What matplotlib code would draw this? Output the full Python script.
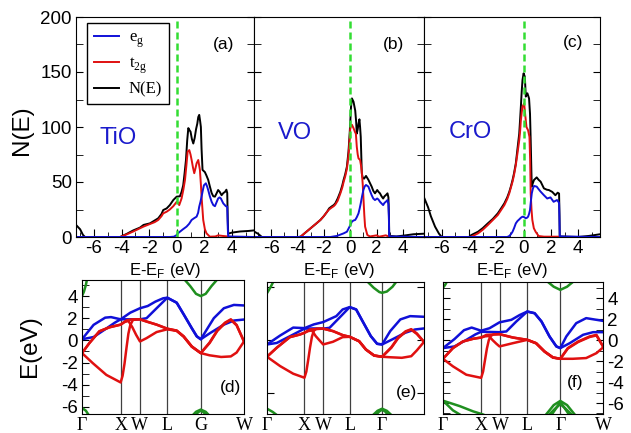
import matplotlib.pyplot as plt
from matplotlib.lines import Line2D
from matplotlib.ticker import MultipleLocator

plt.rcParams['font.family'] = 'Liberation Sans'
plt.rcParams['mathtext.fontset'] = 'custom'
plt.rcParams['mathtext.rm'] = 'Liberation Serif'
plt.rcParams['mathtext.sf'] = 'Liberation Sans'
plt.rcParams['axes.unicode_minus'] = False

# ---------------- DOS data (E - E_F in eV, N(E)) ----------------
tio_total = [(-7.3, 11), (-7.0, 7), (-6.8, 2), (-6.65, 0), (-4.1, 0), (-3.6, 3), (-3.15, 6), (-2.67, 8.5),
             (-2.4, 11), (-1.94, 12.4), (-1.6, 15), (-1.34, 17), (-1.1, 21), (-0.98, 24.5), (-0.73, 26),
             (-0.5, 29), (-0.25, 33.6), (0.0, 36.7), (0.23, 37), (0.35, 41), (0.47, 47), (0.57, 58),
             (0.67, 70), (0.76, 88), (0.84, 99), (0.93, 97), (1.0, 95.8), (1.1, 89), (1.2, 85), (1.3, 90),
             (1.4, 98), (1.49, 103), (1.56, 109), (1.63, 111), (1.7, 105), (1.75, 100), (1.8, 80),
             (1.87, 61), (2.04, 59), (2.15, 56), (2.28, 52), (2.4, 46), (2.53, 40), (2.65, 37),
             (2.77, 36.7), (2.9, 40), (3.0, 42.7), (3.12, 41), (3.25, 38), (3.38, 40), (3.5, 41),
             (3.6, 43), (3.66, 40), (3.7, 15), (3.73, 3), (4.0, 4), (4.58, 5), (5.2, 5.5), (5.6, 6)]
tio_t2g = [(-7.3, 0), (-4.1, 0), (-3.6, 2.5), (-3.15, 5), (-2.67, 7.9), (-2.4, 9.5), (-1.94, 11.8),
           (-1.6, 13.5), (-1.34, 15.5), (-1.1, 19), (-0.98, 21.5), (-0.73, 23), (-0.5, 25), (-0.25, 28),
           (0.0, 32), (0.1, 31), (0.18, 29), (0.35, 35), (0.48, 43), (0.6, 52), (0.7, 65), (0.79, 77.6),
           (0.91, 79), (1.0, 75), (1.08, 70), (1.18, 63), (1.27, 58), (1.35, 62), (1.44, 67), (1.56, 70),
           (1.68, 61), (1.75, 48), (1.8, 36.7), (1.92, 15.5), (2.04, 7), (2.16, 3.3), (2.4, 0.3),
           (2.8, 0.5), (3.0, 1.5), (3.3, 1), (3.7, 0.5), (4.0, 0), (5.6, 0)]
tio_eg = [(-7.3, 0), (-0.5, 0), (-0.2, 0.3), (0.0, 1.8), (0.1, 3.5), (0.23, 4.8), (0.45, 7), (0.71, 9.4),
          (0.9, 12), (1.08, 15.5), (1.25, 17), (1.44, 18.5), (1.55, 22), (1.63, 27.6), (1.72, 32),
          (1.8, 36.7), (1.9, 43), (1.97, 47), (2.11, 48.8), (2.2, 46), (2.28, 42.7), (2.4, 37),
          (2.53, 32), (2.65, 29), (2.77, 28), (2.9, 32), (3.0, 35), (3.1, 36), (3.2, 35), (3.37, 30.6),
          (3.56, 28), (3.66, 27.6), (3.7, 8), (3.73, 0.5), (5.6, 0)]

vo_total = [(-7.3, 5), (-7.0, 3), (-6.7, 0), (-3.9, 0), (-3.76, 0.3), (-3.4, 4), (-3.0, 8), (-2.6, 12),
            (-2.26, 15.5), (-2.0, 19), (-1.75, 23), (-1.6, 26), (-1.38, 28), (-1.25, 29), (-1.13, 30.6),
            (-0.95, 35), (-0.75, 41), (-0.6, 47), (-0.5, 52), (-0.38, 57), (-0.25, 64), (-0.13, 77.6),
            (-0.05, 92), (0.0, 103), (0.06, 118), (0.13, 126), (0.25, 123), (0.38, 115), (0.45, 105),
            (0.5, 94), (0.57, 98), (0.63, 103), (0.7, 107), (0.75, 100), (0.8, 91), (0.88, 58),
            (0.95, 54), (1.05, 53), (1.2, 55.5), (1.38, 52), (1.5, 49), (1.63, 45.8), (1.75, 42),
            (1.88, 39.7), (2.05, 42.7), (2.15, 41), (2.26, 39.7), (2.38, 37), (2.5, 35), (2.6, 37),
            (2.7, 38), (2.83, 39.7), (2.9, 36), (2.94, 20), (2.96, 1), (3.5, 0.5), (4.2, 1.5),
            (4.8, 2.5), (5.6, 3)]
vo_t2g = [(-7.3, 0), (-3.9, 0), (-3.76, 0.3), (-3.4, 4), (-3.0, 8), (-2.6, 12), (-2.26, 15.5), (-2.0, 19),
          (-1.75, 23), (-1.6, 25), (-1.38, 27), (-1.25, 28), (-1.13, 29.5), (-0.95, 33), (-0.75, 39.5),
          (-0.6, 45), (-0.5, 50), (-0.38, 55), (-0.25, 62), (-0.13, 74), (-0.05, 88), (0.0, 98),
          (0.06, 101), (0.13, 102), (0.25, 99), (0.38, 95), (0.43, 94), (0.5, 82), (0.57, 75),
          (0.63, 71.5), (0.75, 70), (0.82, 65), (0.88, 59), (0.95, 48), (1.0, 36.7), (1.07, 20),
          (1.13, 9.4), (1.3, 1.8), (1.5, 0.5), (2.0, 1.5), (2.2, 0.3), (2.7, 1.5), (2.9, 0.5),
          (3.2, 0), (5.6, 0)]
vo_eg = [(-7.3, 0), (-1.5, 0), (-1.0, 1), (-0.5, 3.3), (-0.25, 4.8), (-0.05, 9.4), (0.13, 14), (0.25, 15),
         (0.38, 15.5), (0.5, 18), (0.63, 21.5), (0.72, 26), (0.8, 30.6), (0.9, 37), (1.0, 42.7),
         (1.1, 46), (1.2, 47.3), (1.38, 45.8), (1.5, 42), (1.63, 38), (1.75, 35), (1.88, 33.6),
         (2.05, 35), (2.15, 34), (2.26, 32), (2.38, 30.5), (2.5, 29), (2.6, 31), (2.7, 32),
         (2.83, 33.6), (2.9, 30), (2.94, 15), (2.96, 0.5), (5.6, 0)]

cro_total = [(-7.3, 36), (-7.0, 27), (-6.8, 19), (-6.49, 9.4), (-6.2, 3), (-6.0, 0), (-4.0, 0),
             (-3.83, 1.8), (-3.34, 4.8), (-3.0, 8), (-2.62, 12.4), (-2.25, 16.5), (-1.89, 21.5),
             (-1.65, 26), (-1.41, 30.6), (-1.2, 36), (-1.05, 41), (-0.93, 46), (-0.81, 51.8), (-0.7, 58),
             (-0.57, 67), (-0.45, 80), (-0.32, 94), (-0.25, 108), (-0.2, 118.5), (-0.14, 132),
             (-0.08, 142.7), (0.0, 148.8), (0.09, 145.8), (0.16, 127.6), (0.22, 130), (0.28, 130.6),
             (0.4, 126), (0.47, 112), (0.52, 88), (0.57, 60), (0.6, 45.8), (0.68, 49), (0.76, 51.8),
             (0.96, 54.2), (1.1, 52), (1.25, 50.3), (1.49, 44.2), (1.7, 43), (1.85, 42.7), (2.1, 41),
             (2.33, 38), (2.5, 40.3), (2.6, 39.5), (2.63, 20), (2.65, 0.5), (4.0, 0), (4.8, 1), (5.6, 2.5)]
cro_t2g = [(-7.3, 0), (-4.0, 0), (-3.83, 0.3), (-3.34, 3.3), (-3.0, 6.5), (-2.62, 10.9), (-2.25, 15.5),
           (-1.89, 20), (-1.65, 24.5), (-1.41, 29), (-1.2, 34.5), (-1.05, 39.7), (-0.93, 45),
           (-0.81, 50.3), (-0.7, 56.5), (-0.57, 65.5), (-0.45, 76), (-0.32, 88), (-0.25, 97),
           (-0.2, 106), (-0.14, 113), (-0.08, 118.5), (0.04, 121.5), (0.11, 112), (0.21, 100),
           (0.33, 97), (0.43, 91), (0.48, 70), (0.52, 39.7), (0.58, 25), (0.64, 15.5), (0.75, 8),
           (0.88, 4.8), (1.1, 0.9), (1.5, 0.3), (2.6, 0.3), (2.7, 0), (5.6, 0)]
cro_eg = [(-7.3, 0), (-1.2, 0), (-1.05, 0.9), (-0.93, 2.5), (-0.81, 4.8), (-0.7, 8), (-0.57, 12.4),
          (-0.45, 14.5), (-0.32, 16), (-0.2, 17.5), (-0.08, 18.5), (0.05, 18), (0.16, 17), (0.25, 17.5),
          (0.33, 18.5), (0.4, 21), (0.47, 24.5), (0.53, 32), (0.6, 39.7), (0.68, 44), (0.76, 46.4),
          (0.96, 45.8), (1.1, 43.5), (1.25, 41.2), (1.49, 38), (1.73, 35), (1.97, 36), (2.2, 32),
          (2.45, 33.6), (2.55, 32), (2.6, 31), (2.63, 15), (2.65, 0.5), (5.6, 0)]

# ---------------- band data (k along G-X-W-L-G-W, E in eV) ----------------
kpath = [0.0, 1.0, 1.5, 2.2071, 3.0731, 4.1912]

tio_eg_bands = [
    [(0, 0.1), (0.3, 1.4), (0.6, 2.05), (0.75, 2.1), (1.0, 1.9), (1.25, 2.5), (1.5, 2.9), (1.7, 3.1),
     (1.9, 3.5), (2.1, 3.8), (2.207, 3.85), (2.45, 3.4), (2.63, 2.35), (2.84, 1.1), (2.97, 0.36),
     (3.073, 0.1), (3.25, 1.1), (3.41, 2.0), (3.67, 2.9), (3.93, 3.2), (4.191, 3.15)],
    [(0, 0.1), (0.3, 0.3), (0.6, 1.0), (0.85, 1.6), (1.0, 1.9), (1.25, 1.9), (1.5, 1.9), (1.67, 2.0),
     (1.93, 2.9), (2.207, 3.85), (2.45, 3.4), (2.63, 2.35), (2.84, 1.1), (2.97, 0.36), (3.073, 0.1),
     (3.32, 0.67), (3.67, 1.42), (3.93, 1.79), (4.191, 1.88)],
]
tio_t2g_bands = [
    [(0, -1.15), (0.19, -0.25), (0.45, 0.82), (0.71, 1.18), (1.0, 1.42), (1.15, 1.8), (1.3, 1.9),
     (1.5, 1.9), (1.67, 1.7), (1.93, 1.42), (2.207, 1.05), (2.45, 0.88), (2.63, 0.36), (2.84, -0.55),
     (3.073, -1.15), (3.3, -0.2), (3.5, 0.9), (3.7, 1.6), (3.85, 1.9), (4.0, 1.4), (4.191, -0.1)],
    [(0, -1.15), (0.19, -0.25), (0.45, 0.82), (0.71, 1.18), (1.0, 1.42), (1.1, 1.65), (1.2, 1.75),
     (1.3, 1.2), (1.4, 0.5), (1.5, -0.1), (1.67, 0.2), (1.93, 0.75), (2.207, 1.0), (2.45, 0.85),
     (2.63, 0.33), (2.84, -0.58), (3.073, -1.15), (3.3, -0.25), (3.5, 0.85), (3.7, 1.55), (3.85, 1.85),
     (4.0, 1.35), (4.191, -0.1)],
    [(0, -1.15), (0.28, -2.06), (0.63, -3.12), (1.0, -3.8), (1.05, -3.2), (1.1, -2.1), (1.15, -0.7),
     (1.2, 0.6), (1.25, 1.4), (1.32, 1.85), (1.5, 1.9), (1.67, 1.7), (1.93, 1.42), (2.207, 1.05),
     (2.45, 0.88), (2.63, 0.36), (2.84, -0.55), (3.073, -1.15), (3.3, -1.35), (3.6, -1.5),
     (3.85, -1.45), (4.0, -1.1), (4.191, -0.1)],
]
tio_other_bands = [
    [(0, 4.0), (0.05, 4.4), (0.1, 5.0), (0.14, 5.7)],
    [(2.6, 5.7), (2.8, 4.9), (2.95, 4.2), (3.073, 4.0), (3.2, 4.2), (3.35, 4.9), (3.55, 5.7)],
    [(0, -6.1), (0.1, -6.35), (0.22, -7.0)],
    [(2.8, -7.0), (2.95, -6.45), (3.073, -6.25), (3.2, -6.45), (3.35, -7.0)],
    [(2.9, -7.0), (3.0, -6.5), (3.073, -6.35), (3.15, -6.5), (3.25, -7.0)],
]

vo_eg_bands = [
    [(0, -0.44), (0.35, 0.4), (0.7, 1.15), (1.0, 1.1), (1.25, 1.45), (1.5, 1.67), (1.85, 2.23),
     (2.02, 2.86), (2.207, 3.08), (2.38, 2.86), (2.55, 1.76), (2.77, 0.35), (2.94, -0.38),
     (3.073, -0.44), (3.29, 0.82), (3.56, 1.92), (3.82, 2.23), (4.191, 2.17)],
    [(0, -0.44), (0.26, -0.3), (0.62, 0.35), (1.0, 1.05), (1.25, 1.07), (1.5, 1.05), (1.67, 1.13),
     (1.93, 2.07), (2.207, 3.08), (2.38, 2.86), (2.55, 1.76), (2.77, 0.35), (2.94, -0.38),
     (3.073, -0.44), (3.34, 0.03), (3.69, 0.66), (3.95, 0.97), (4.191, 1.07)],
]
vo_t2g_bands = [
    [(0, -1.6), (0.26, -0.75), (0.61, 0.25), (0.88, 0.5), (1.0, 0.66), (1.14, 0.97), (1.5, 1.05),
     (1.76, 0.82), (2.02, 0.44), (2.207, 0.28), (2.46, -0.13), (2.64, -0.91), (2.86, -1.48),
     (3.073, -1.6), (3.32, -0.7), (3.5, 0.2), (3.7, 0.8), (3.85, 1.0), (4.0, 0.6), (4.191, -0.2)],
    [(0, -1.6), (0.26, -0.75), (0.61, 0.25), (0.88, 0.5), (1.0, 0.66), (1.1, 0.82), (1.2, 0.88),
     (1.3, 0.35), (1.4, -0.05), (1.5, -0.44), (1.76, -0.19), (2.02, 0.25), (2.207, 0.28), (2.46, -0.15),
     (2.64, -0.93), (2.86, -1.5), (3.073, -1.6), (3.32, -0.75), (3.5, 0.15), (3.7, 0.75), (3.85, 0.95),
     (4.0, 0.55), (4.191, -0.2)],
    [(0, -1.6), (0.35, -2.48), (0.7, -3.2), (1.0, -3.58), (1.05, -3.0), (1.1, -1.9), (1.15, -0.7),
     (1.2, 0.3), (1.25, 0.85), (1.32, 1.05), (1.5, 1.05), (1.76, 0.82), (2.02, 0.44), (2.207, 0.28),
     (2.46, -0.13), (2.64, -0.91), (2.86, -1.48), (3.073, -1.6), (3.3, -1.65), (3.6, -1.7),
     (3.85, -1.55), (4.0, -1.0), (4.191, -0.2)],
]
vo_other_bands = [
    [(0, 4.4), (0.1, 5.0), (0.2, 5.7)],
    [(2.62, 5.7), (2.85, 4.9), (3.0, 4.5), (3.073, 4.43), (3.2, 4.55), (3.35, 5.0), (3.5, 5.7)],
    [(0, -6.5), (0.15, -6.8), (0.3, -7.2)],
    [(2.8, -7.2), (2.95, -6.7), (3.073, -6.5), (3.2, -6.7), (3.35, -7.2)],
    [(2.88, -7.2), (3.0, -6.75), (3.073, -6.6), (3.15, -6.75), (3.26, -7.2)],
]

cro_eg_bands = [
    [(0, -0.76), (0.3, 0.1), (0.55, 0.95), (0.75, 1.2), (1.0, 0.9), (1.22, 1.14), (1.48, 1.7),
     (1.79, 1.94), (2.01, 2.4), (2.207, 2.73), (2.4, 2.57), (2.58, 1.78), (2.79, 0.35), (2.97, -0.6),
     (3.073, -0.76), (3.23, 0.35), (3.49, 1.62), (3.75, 2.1), (4.191, 1.84)],
    [(0, -0.76), (0.3, -0.6), (0.6, 0.0), (0.85, 0.55), (1.0, 0.8), (1.25, 0.78), (1.48, 0.76),
     (1.66, 0.83), (1.92, 1.78), (2.207, 2.73), (2.4, 2.57), (2.58, 1.78), (2.79, 0.35), (2.97, -0.6),
     (3.073, -0.76), (3.32, -0.29), (3.67, 0.51), (3.93, 0.76), (4.191, 0.76)],
]
cro_t2g_bands = [
    [(0, -1.78), (0.26, -0.76), (0.52, -0.13), (0.79, 0.13), (1.0, 0.25), (1.135, 0.5), (1.48, 0.57),
     (1.83, 0.25), (2.207, 0.03), (2.44, -0.29), (2.66, -1.08), (2.88, -1.65), (3.073, -1.78),
     (3.27, -0.76), (3.54, -0.13), (3.84, 0.35), (4.02, 0.5), (4.191, -0.6)],
    [(0, -1.78), (0.26, -0.76), (0.52, -0.13), (0.79, 0.13), (1.0, 0.25), (1.1, 0.36), (1.2, 0.4),
     (1.3, 0.0), (1.4, -0.35), (1.48, -0.6), (1.83, -0.29), (2.207, 0.03), (2.44, -0.31), (2.66, -1.1),
     (2.88, -1.67), (3.073, -1.78), (3.27, -0.8), (3.54, -0.18), (3.84, 0.3), (4.02, 0.45),
     (4.191, -0.6)],
    [(0, -1.78), (0.26, -2.5), (0.61, -3.3), (1.0, -3.6), (1.05, -3.0), (1.1, -1.9), (1.15, -0.8),
     (1.2, 0.0), (1.25, 0.4), (1.32, 0.55), (1.48, 0.57), (1.83, 0.25), (2.207, 0.03), (2.44, -0.29),
     (2.66, -1.08), (2.88, -1.65), (3.073, -1.78), (3.4, -1.78), (3.75, -1.71), (4.02, -1.24),
     (4.191, -0.7)],
]
cro_other_bands = [
    [(0, 5.0), (0.06, 5.3), (0.12, 5.7)],
    [(2.7, 5.7), (2.9, 5.1), (3.073, 4.8), (3.25, 5.1), (3.45, 5.7)],
    [(0, -5.78), (0.44, -6.3), (0.79, -6.8), (1.05, -7.1)],
    [(0, -5.78), (0.26, -6.7), (0.44, -7.1)],
    [(2.7, -7.1), (2.9, -6.2), (3.073, -5.8), (3.25, -6.2), (3.45, -7.1)],
    [(2.85, -7.1), (3.0, -6.3), (3.073, -5.9), (3.15, -6.3), (3.3, -7.1)],
    [(2.78, -7.1), (2.95, -6.5), (3.073, -6.1), (3.2, -6.5), (3.37, -7.1)],
]

W, H = 631, 433
fig = plt.figure(figsize=(6.31, 4.33), dpi=100)


def box(x0, x1, ytop, ybot):
    return [x0 / W, (H - ybot) / H, (x1 - x0) / W, (ybot - ytop) / H]


def xy(pts):
    return [p[0] for p in pts], [p[1] for p in pts]


# ---- top row: DOS ----
dos_boxes = [box(76, 254, 17, 237), box(254, 424, 17, 237), box(424, 600, 17, 237)]
dos_sets = [(tio_total, tio_t2g, tio_eg, 'TiO', '(a)', (0.236, 0.45), (0.83, 0.877)),
            (vo_total, vo_t2g, vo_eg, 'VO', '(b)', (0.241, 0.473), (0.818, 0.873)),
            (cro_total, cro_t2g, cro_eg, 'CrO', '(c)', (0.261, 0.477), (0.847, 0.886))]
xlab_x = [165, 339, 512]

for i, (b, d) in enumerate(zip(dos_boxes, dos_sets)):
    tot, t2g, eg, name, tag, npos, tpos = d
    ax = fig.add_axes(b)
    ax.plot(*xy(tot), color='black', lw=1.4)
    ax.plot(*xy(t2g), color='#e01010', lw=1.4)
    ax.plot(*xy(eg), color='#1010d8', lw=1.4)
    ax.axvline(0, color='#33dd33', lw=1.8, ls=(0, (2.8, 1.6)))
    ax.set_xlim(-7.3, 5.6)
    ax.set_ylim(0, 200)
    ax.xaxis.set_major_locator(MultipleLocator(2))
    ax.xaxis.set_minor_locator(MultipleLocator(1))
    ax.yaxis.set_major_locator(MultipleLocator(50))
    ax.yaxis.set_minor_locator(MultipleLocator(25))
    ax.tick_params(which='both', direction='in', left=True, right=True, top=False, labelsize=13.5)
    ax.tick_params(axis='x', which='major', length=6, pad=2)
    ax.tick_params(axis='x', which='minor', length=3.5)
    ax.tick_params(axis='y', which='both', length=5, pad=3)
    if i > 0:
        ax.set_yticklabels([])
    for s in ax.spines.values():
        s.set_linewidth(0.8)
    ax.text(npos[0], npos[1], name, transform=ax.transAxes, color='#1a1acc', fontsize=17,
            ha='center', va='center')
    ax.text(tpos[0], tpos[1], tag, transform=ax.transAxes, fontsize=12.5, ha='center', va='center')
    fig.text(xlab_x[i] / W, (H - 270) / H, r'E-E$_\mathsf{F}$ (eV)', fontsize=12,
             ha='center', va='center')
    if i == 0:
        handles = [Line2D([], [], color='#1010d8', lw=1.4), Line2D([], [], color='#e01010', lw=1.4),
                   Line2D([], [], color='black', lw=1.4)]
        leg = ax.legend(handles, [r'e$_\mathrm{g}$', r't$_\mathrm{2g}$', 'N(E)'],
                        loc='upper left', bbox_to_anchor=(0.062, 0.973), borderaxespad=0,
                        prop={'family': 'Liberation Serif', 'size': 12}, handlelength=1.5,
                        handletextpad=0.6, labelspacing=0.35, fancybox=False, framealpha=1,
                        edgecolor='black')
        leg.get_frame().set_linewidth(1.0)

# ---- bottom row: bands ----
band_boxes = [box(82, 244, 280, 414), box(267, 424, 282, 414), box(443, 603, 282, 414)]
band_sets = [(tio_eg_bands, tio_t2g_bands, tio_other_bands, '(d)', (0.914, 0.2), (-6.65, 5.45),
              ['\u0393', 'X', 'W', 'L', 'G', 'W']),
             (vo_eg_bands, vo_t2g_bands, vo_other_bands, '(e)', (0.89, 0.16), (-7.0, 5.45),
              ['\u0393', 'X', 'W', 'L', '\u0393', '']),
             (cro_eg_bands, cro_t2g_bands, cro_other_bands, '(f)', (0.825, 0.24), (-7.05, 5.55),
              ['\u0393', 'X', 'W', 'L', '\u0393', 'W'])]

for i, (b, d) in enumerate(zip(band_boxes, band_sets)):
    egb, t2gb, oth, tag, tpos, ylim, klabels = d
    ax = fig.add_axes(b)
    for k in kpath[1:-1]:
        ax.axvline(k, color='#404040', lw=0.9)
    for band in oth:
        ax.plot(*xy(band), color='#1f8f1f', lw=1.8)
    for band in egb:
        ax.plot(*xy(band), color='#1010d8', lw=1.8)
    for band in t2gb:
        ax.plot(*xy(band), color='#e01010', lw=1.8)
    ax.set_xlim(kpath[0], kpath[-1])
    ax.set_ylim(*ylim)
    ax.set_xticks(kpath)
    ax.set_xticklabels(klabels, fontfamily='Liberation Serif', fontsize=13)
    ax.tick_params(axis='x', length=0, pad=2)
    if i == 0:
        ax.yaxis.set_major_locator(MultipleLocator(2))
        ax.yaxis.set_minor_locator(MultipleLocator(1))
        ax.tick_params(axis='y', which='both', direction='in', left=True, right=False,
                       length=5, labelsize=13.5, pad=3)
    elif i == 1:
        ax.set_yticks([-5, 0, 5])
        ax.tick_params(axis='y', which='both', direction='in', left=True, right=True,
                       length=5, labelleft=False)
    else:
        ax.yaxis.set_major_locator(MultipleLocator(2))
        ax.yaxis.set_minor_locator(MultipleLocator(1))
        ax.tick_params(axis='y', which='both', direction='in', left=True, right=True,
                       length=5, labelleft=False, labelright=True, labelsize=13.5, pad=3)
    for s in ax.spines.values():
        s.set_linewidth(0.8)
    ax.text(tpos[0], tpos[1], tag, transform=ax.transAxes, fontsize=12.5, ha='center', va='center')

fig.text(22 / W, (H - 130) / H, 'N(E)', rotation=90, fontsize=17.5, ha='center', va='center')
fig.text(30 / W, (H - 346) / H, 'E(eV)', rotation=90, fontsize=17.5, ha='center', va='center')

fig.savefig('out.png', dpi=100)
